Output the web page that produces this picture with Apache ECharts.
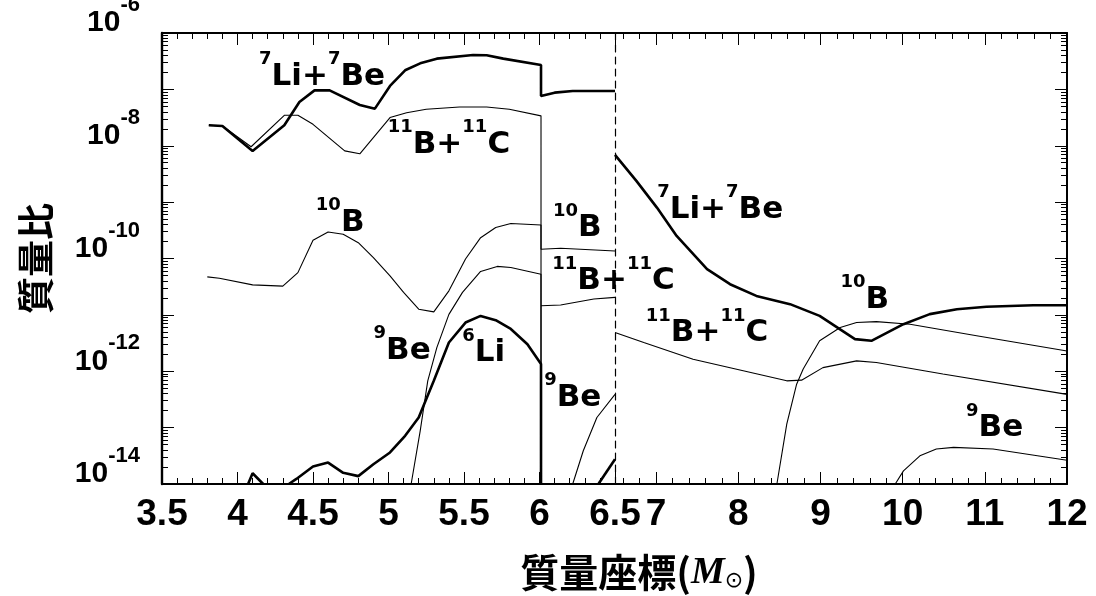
<!DOCTYPE html>
<html><head><meta charset="utf-8">
<script src="https://cdn.jsdelivr.net/npm/echarts@6/dist/echarts.min.js"></script>
<style>html,body{margin:0;padding:0;background:#fff}#c{width:1096px;height:596px}</style>
</head><body><div id="c"></div>
<script>
// ---------- data (x in solar masses, y = mass fraction) ----------
const xTicksLeft = [3.5, 4, 4.5, 5, 5.5, 6, 6.5];
const xTicksRight = [7, 8, 9, 10, 11, 12];
const yLabelValues = [1e-14, 1e-12, 1e-10, 1e-8, 1e-6];
const yDecades = [1e-14, 1e-13, 1e-12, 1e-11, 1e-10, 1e-9, 1e-8, 1e-7, 1e-6];

const li7Be_L = [[3.81,2.31e-8],[3.90,2.24e-8],[4.10,8.1e-9],[4.31,2.31e-8],[4.41,5.98e-8],[4.51,9.6e-8],[4.61,9.6e-8],[4.81,5.28e-8],[4.91,4.55e-8],[5.01,1.15e-7],[5.11,2.18e-7],[5.21,2.9e-7],[5.32,3.51e-7],[5.56,4.07e-7],[5.65,4.02e-7],[5.76,3.51e-7],[6.01,2.71e-7],[6.01,7.64e-8],[6.10,8.75e-8],[6.22,9.38e-8],[6.50,9.38e-8]];
const b11C_L = [[3.81,2.31e-8],[3.90,2.24e-8],[4.09,9.6e-9],[4.31,3.47e-8],[4.40,3.47e-8],[4.50,2.4e-8],[4.71,8.1e-9],[4.81,7.2e-9],[5.01,3.16e-8],[5.12,3.86e-8],[5.25,4.44e-8],[5.47,4.88e-8],[5.65,4.88e-8],[5.80,4.44e-8],[6.01,3.39e-8],[6.01,1e-14]];
const b10_L = [[3.80,4.72e-11],[3.88,4.47e-11],[4.10,3.4e-11],[4.30,3.24e-11],[4.40,5.62e-11],[4.50,2.11e-10],[4.60,2.96e-10],[4.70,2.69e-10],[4.80,1.91e-10],[4.90,1.04e-10],[5.01,4.9e-11],[5.10,2.51e-11],[5.20,1.26e-11],[5.30,1.13e-11],[5.40,2.67e-11],[5.51,9.8e-11],[5.61,2.34e-10],[5.71,3.55e-10],[5.81,4.17e-10],[6.01,3.94e-10],[6.01,1.46e-10],[6.14,1.52e-10],[6.50,1.36e-10]];
const be9_L = [[5.15,1e-14],[5.21,8.77e-14],[5.26,6.76e-13],[5.32,2.63e-12],[5.40,1.02e-11],[5.49,2.51e-11],[5.61,5.89e-11],[5.72,7.24e-11],[5.81,6.92e-11],[6.01,5.25e-11],[6.01,1e-14]];
const be9_M = [[6.22,1e-14],[6.29,3.89e-14],[6.38,1.51e-13],[6.50,3.89e-13]];
const b11C_M = [[6.01,1.45e-11],[6.14,1.5e-11],[6.36,1.91e-11],[6.50,2.04e-11]];
const li6_spike = [[4.07,1e-14],[4.10,1.55e-14],[4.17,1e-14]];
const li6_L = [[4.34,1e-14],[4.39,1.23e-14],[4.50,2.04e-14],[4.60,2.4e-14],[4.70,1.58e-14],[4.80,1.38e-14],[4.90,2.24e-14],[5.01,3.63e-14],[5.11,7.16e-14],[5.20,1.51e-13],[5.30,6.76e-13],[5.40,3.24e-12],[5.51,7.31e-12],[5.61,9.59e-12],[5.71,8.04e-12],[5.81,5.62e-12],[5.92,3.02e-12],[6.01,1.34e-12],[6.01,1e-14]];
const li6_M = [[6.39,1e-14],[6.50,2.75e-14]];

const li7Be_R = [[6.50,6.87e-9],[6.76,2.38e-9],[7.01,8.0e-10],[7.25,2.51e-10],[7.62,6.46e-11],[7.90,3.5e-11],[8.22,2.17e-11],[8.63,1.55e-11],[8.99,9.59e-12],[9.42,3.72e-12],[9.62,3.47e-12],[10.01,6.84e-12],[10.33,1.03e-11],[10.66,1.26e-11],[11.02,1.39e-11],[11.59,1.48e-11],[12.0,1.48e-11]];
const b11C_R = [[6.50,4.85e-12],[6.85,3.24e-12],[7.45,1.63e-12],[8.06,1.02e-12],[8.59,6.76e-13],[8.77,6.95e-13],[9.03,1.16e-12],[9.44,1.53e-12],[9.68,1.43e-12],[10.49,8.91e-13],[12.0,3.89e-13]];
const b10_R = [[8.47,1e-14],[8.59,1.15e-13],[8.71,5.89e-13],[8.79,1.1e-12],[8.99,3.47e-12],[9.24,5.96e-12],[9.44,7.31e-12],[9.68,7.59e-12],[10.09,6.84e-12],[10.9,4.27e-12],[12.0,2.29e-12]];
const be9_R = [[9.91,1e-14],[10.01,1.71e-14],[10.21,3.16e-14],[10.41,4.17e-14],[10.62,4.47e-14],[11.10,4.17e-14],[12.0,2.63e-14]];

// in-plot labels: [x, y, text]
const labelsLeft = [
  [4.56, 1.8e-7, '{s|7}{m|Li+}{s|7}{m|Be}'],
  [5.40, 1.10e-8, '{s|11}{m|B+}{s|11}{m|C}'],
  [4.68, 4.49e-10, '{s|10}{m|B}'],
  [6.25, 3.63e-10, '{s|10}{m|B}'],
  [6.49, 4.17e-11, '{s|11}{m|B+}{s|11}{m|C}'],
  [5.09, 2.40e-12, '{s|9}{m|Be}'],
  [5.63, 2.21e-12, '{s|6}{m|Li}'],
  [6.22, 3.52e-13, '{s|9}{m|Be}']
];
const labelsRight = [
  [7.78, 7.73e-10, '{s|7}{m|Li+}{s|7}{m|Be}'],
  [7.62, 5.0e-12, '{s|11}{m|B+}{s|11}{m|C}'],
  [9.54, 1.96e-11, '{s|10}{m|B}'],
  [11.12, 1.03e-13, '{s|9}{m|Be}']
];

// ---------- helpers ----------
function minorLogTicks() {
  const out = [];
  for (let e = -14; e < -6; e++) for (let m = 2; m <= 9; m++) out.push(Number((m * Math.pow(10, e)).toPrecision(3)));
  return out;
}
function minorRightTicks() {
  const out = [];
  for (let k = 33; k <= 59; k++) { const v = k / 5; if (Math.abs(v - Math.round(v)) > 1e-6) out.push(Number(v.toFixed(1))); }
  return out;
}
const BLACK = '#000';
const THICK = 2.6, THIN = 1.1;
const frame = { lineStyle: { color: BLACK, width: 2 } };
const richPlot = {
  m: { fontFamily: 'DejaVu Sans', fontWeight: 'bold', fontSize: 31, lineHeight: 42, verticalAlign: 'bottom', color: BLACK },
  s: { fontFamily: 'DejaVu Sans', fontWeight: 'bold', fontSize: 18, lineHeight: 18, verticalAlign: 'top', color: BLACK }
};
function mp(list) {
  return {
    symbol: 'circle', symbolSize: 1, itemStyle: { color: 'rgba(0,0,0,0)' }, animation: false, silent: true,
    label: { show: true, position: 'inside', offset: [0, -4], formatter: p => p.name, rich: richPlot },
    data: list.map(l => ({ name: l[2], coord: [l[0], l[1]] }))
  };
}
function line(data, xi, yi, w, extra) {
  return Object.assign({ type: 'line', data: data, xAxisIndex: xi, yAxisIndex: yi, symbol: 'none', showSymbol: false,
    lineStyle: { color: BLACK, width: w }, animation: false, silent: true, z: 3 }, extra || {});
}
const yBase = { type: 'log', logBase: 10, min: 1e-14, max: 1e-6, splitLine: { show: false } };
const tickIn = (len, w) => ({ show: true, inside: true, length: len, lineStyle: { color: BLACK, width: w || 1 } });

const option = {
  backgroundColor: '#fff',
  animation: false,
  grid: [
    { left: 162, right: 481, top: 33, bottom: 112, containLabel: false, outerBoundsMode: 'none' },
    { left: 615, right: 29, top: 33, bottom: 112, containLabel: false, outerBoundsMode: 'none' }
  ],
  xAxis: [
    { gridIndex: 0, type: 'value', position: 'bottom', min: 3.5, max: 6.5, interval: 0.5,
      axisLine: frame, axisTick: tickIn(12), minorTick: { show: true, splitNumber: 5, length: 6, lineStyle: { color: BLACK, width: 1 } },
      splitLine: { show: false }, minorSplitLine: { show: false },
      axisLabel: { margin: 12, fontFamily: 'Liberation Sans', fontWeight: 'bold', fontSize: 37, color: BLACK, formatter: v => String(v) } },
    { gridIndex: 0, type: 'value', position: 'top', min: 3.5, max: 6.5, interval: 0.5,
      axisLine: frame, axisTick: tickIn(12), minorTick: { show: true, splitNumber: 5, length: 6, lineStyle: { color: BLACK, width: 1 } },
      splitLine: { show: false }, axisLabel: { show: false } },
    { gridIndex: 1, type: 'value', position: 'bottom', min: 6.5, max: 12,
      axisLine: frame, axisTick: Object.assign(tickIn(12), { customValues: xTicksRight }), splitLine: { show: false },
      axisLabel: { customValues: xTicksRight, margin: 12, fontFamily: 'Liberation Sans', fontWeight: 'bold', fontSize: 37, color: BLACK } },
    { gridIndex: 1, type: 'value', position: 'bottom', min: 6.5, max: 12,
      axisLine: { show: false }, axisTick: Object.assign(tickIn(6), { customValues: minorRightTicks() }), splitLine: { show: false },
      axisLabel: { show: false } },
    { gridIndex: 1, type: 'value', position: 'top', min: 6.5, max: 12,
      axisLine: frame, axisTick: Object.assign(tickIn(12), { customValues: xTicksRight }), splitLine: { show: false },
      axisLabel: { show: false } },
    { gridIndex: 1, type: 'value', position: 'top', min: 6.5, max: 12,
      axisLine: { show: false }, axisTick: Object.assign(tickIn(6), { customValues: minorRightTicks() }), splitLine: { show: false },
      axisLabel: { show: false } }
  ],
  yAxis: [
    Object.assign({}, yBase, { gridIndex: 0, position: 'left',
      axisLine: { show: true, lineStyle: { color: BLACK, width: 2.4 } },
      axisTick: Object.assign(tickIn(12), { customValues: yDecades }),
      axisLabel: { customValues: yLabelValues, margin: 22, padding: [0, 0, 34, 0],
        formatter: v => '{b|10}{s|' + Math.round(Math.log10(v)) + '}',
        rich: {
          b: { fontFamily: 'Liberation Sans', fontWeight: 'bold', fontSize: 30, lineHeight: 44, verticalAlign: 'bottom', color: BLACK },
          s: { fontFamily: 'Liberation Sans', fontWeight: 'bold', fontSize: 22, lineHeight: 22, verticalAlign: 'top', color: BLACK }
        } },
      name: '質量比', nameLocation: 'middle', nameRotate: 90, nameGap: 108,
      nameTextStyle: { fontFamily: 'Noto Sans CJK JP', fontWeight: 'bold', fontSize: 37, color: BLACK } }),
    Object.assign({}, yBase, { gridIndex: 0, position: 'left', axisLine: { show: false },
      axisTick: Object.assign(tickIn(6), { customValues: minorLogTicks() }), axisLabel: { show: false } }),
    Object.assign({}, yBase, { gridIndex: 1, position: 'left',
      axisLine: { show: true, lineStyle: { color: BLACK, width: 1.2, type: [7, 5] } },
      axisTick: { show: false }, axisLabel: { show: false } }),
    Object.assign({}, yBase, { gridIndex: 1, position: 'right',
      axisLine: frame, axisTick: Object.assign(tickIn(12), { customValues: yDecades }), axisLabel: { show: false } }),
    Object.assign({}, yBase, { gridIndex: 1, position: 'right', axisLine: { show: false },
      axisTick: Object.assign(tickIn(6), { customValues: minorLogTicks() }), axisLabel: { show: false } })
  ],
  graphic: [{
    type: 'text', x: 639, y: 569, z: 10,
    style: {
      text: '{c|質量座標(}{m|M}{o|⊙}{c|)}', align: 'center', verticalAlign: 'middle',
      rich: {
        c: { fontFamily: 'Noto Sans CJK JP', fontWeight: 'bold', fontSize: 39, lineHeight: 46, verticalAlign: 'bottom', fill: BLACK },
        m: { fontFamily: 'Liberation Serif', fontStyle: 'italic', fontWeight: 'bold', fontSize: 38, lineHeight: 46, verticalAlign: 'bottom', fill: BLACK },
        o: { fontFamily: 'DejaVu Sans', fontSize: 22, lineHeight: 32, verticalAlign: 'bottom', fill: BLACK }
      }
    }
  }],
  series: [
    line(li7Be_L, 0, 0, THICK, { markPoint: mp(labelsLeft) }),
    line(b11C_L, 0, 0, THIN),
    line(b10_L, 0, 0, THIN),
    line(be9_L, 0, 0, THIN),
    line(be9_M, 0, 0, THIN),
    line(b11C_M, 0, 0, THIN),
    line(li6_spike, 0, 0, THICK),
    line(li6_L, 0, 0, THICK),
    line(li6_M, 0, 0, THICK),
    line(li7Be_R, 2, 3, THICK, { markPoint: mp(labelsRight) }),
    line(b11C_R, 2, 3, THIN),
    line(b10_R, 2, 3, THIN),
    line(be9_R, 2, 3, THIN)
  ]
};
const chart = echarts.init(document.getElementById('c'), null, { renderer: 'canvas' });
chart.setOption(option);
</script></body></html>
